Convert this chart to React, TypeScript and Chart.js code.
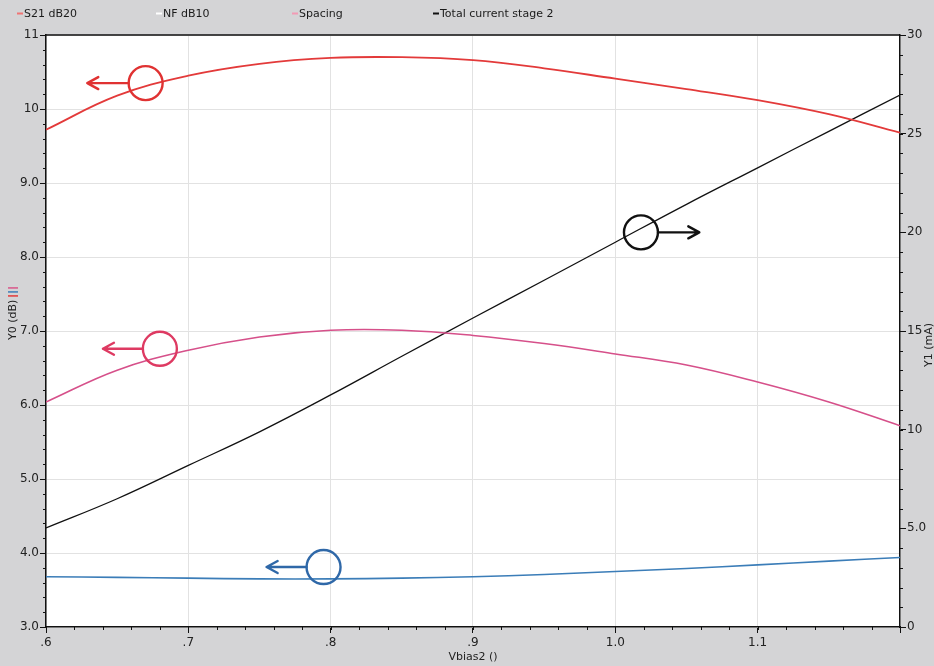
import React, { useEffect, useRef } from "react";
import { Chart, registerables } from "chart.js";

Chart.register(...registerables);

// Sweep of the second-stage bias voltage (V)
const vbias = [0.6, 0.65, 0.7, 0.75, 0.8, 0.85, 0.9, 0.95, 1.0, 1.05, 1.1, 1.15, 1.2];

// Left axis (dB)
const s21Db20 = [9.72, 10.18, 10.45, 10.61, 10.69, 10.7, 10.66, 10.55, 10.41, 10.27, 10.12, 9.93, 9.68];
const nfDb10 = [3.68, 3.67, 3.66, 3.65, 3.65, 3.66, 3.68, 3.71, 3.75, 3.79, 3.84, 3.89, 3.94];
const spacing = [6.04, 6.47, 6.74, 6.92, 7.01, 7.01, 6.94, 6.83, 6.69, 6.54, 6.31, 6.04, 5.72];

// Right axis (mA)
const totalCurrent = [5.02, 6.5, 8.19, 9.89, 11.76, 13.72, 15.66, 17.57, 19.5, 21.42, 23.27, 25.12, 26.96];

const legendNames = ["S21 dB20", "NF dB10", "Spacing", "Total current stage 2"];

// Axis ranges
const xRange = [0.6, 1.2];
const leftRange = [3, 11];
const rightRange = [0, 30];

// Callout circles with arrows pointing at the axis each curve belongs to
const callouts = [
  { x: 0.67, y: 10.35, axis: "y", tip: 0.629, color: "#e03232" },
  { x: 0.68, y: 6.76, axis: "y", tip: 0.64, color: "#de3a62" },
  { x: 0.795, y: 3.81, axis: "y", tip: 0.755, color: "#2f68a8" },
  { x: 1.018, y: 20.0, axis: "y1", tip: 1.059, color: "#111111" },
];

const FONT = "DejaVu Sans, Verdana, sans-serif";

const toXY = (ys: number[]) => ys.map((y, i) => ({ x: vbias[i], y }));

const fmtX = (v: number) => {
  if (Math.abs(v - 1.2) < 1e-6) return "";
  let s = v.toFixed(1);
  if (s.startsWith("0")) s = s.slice(1);
  return s;
};
const fmtLeft = (v: number) => (v >= 10 ? String(Math.round(v)) : v.toFixed(1));
const fmtRight = (v: number) => (v === 0 ? "0" : v >= 10 ? String(Math.round(v)) : v.toFixed(1));

const decorPlugin = {
  id: "decor",
  beforeDraw(chart: any) {
    const { ctx, chartArea: a } = chart;
    ctx.save();
    ctx.fillStyle = "#d4d4d6";
    ctx.fillRect(0, 0, chart.width, chart.height);
    ctx.fillStyle = "#ffffff";
    ctx.fillRect(a.left, a.top, a.right - a.left, a.bottom - a.top);
    ctx.restore();
  },
  afterDraw(chart: any) {
    const { ctx, chartArea: a } = chart;
    const xs = chart.scales.x;
    const yl = chart.scales.y;
    const yr = chart.scales.y1;
    ctx.save();

    // frame top edge
    ctx.strokeStyle = "#111";
    ctx.lineWidth = 1.5;
    ctx.beginPath();
    ctx.moveTo(a.left, a.top);
    ctx.lineTo(a.right, a.top);
    ctx.stroke();

    // minor ticks
    ctx.lineWidth = 1;
    ctx.beginPath();
    for (let v = leftRange[0]; v <= leftRange[1] + 1e-6; v += 0.2) {
      const p = Math.round(yl.getPixelForValue(v)) + 0.5;
      ctx.moveTo(a.left - 3, p);
      ctx.lineTo(a.left, p);
    }
    for (let v = rightRange[0]; v <= rightRange[1] + 1e-6; v += 1) {
      const p = Math.round(yr.getPixelForValue(v)) + 0.5;
      ctx.moveTo(a.right, p);
      ctx.lineTo(a.right + 3, p);
    }
    for (let v = xRange[0]; v <= xRange[1] + 1e-6; v += 0.02) {
      const p = Math.round(xs.getPixelForValue(v)) + 0.5;
      ctx.moveTo(p, a.bottom);
      ctx.lineTo(p, a.bottom + 3);
    }
    ctx.stroke();

    // callouts
    ctx.lineCap = "round";
    ctx.lineJoin = "round";
    for (const c of callouts) {
      const sc = c.axis === "y" ? yl : yr;
      const cx = xs.getPixelForValue(c.x);
      const cy = sc.getPixelForValue(c.y);
      const tx = xs.getPixelForValue(c.tip);
      const r = 17;
      const dir = tx < cx ? -1 : 1;
      ctx.strokeStyle = c.color;
      ctx.lineWidth = 2.4;
      ctx.beginPath();
      ctx.arc(cx, cy, r, 0, Math.PI * 2);
      ctx.stroke();
      ctx.beginPath();
      ctx.moveTo(cx + dir * r, cy);
      ctx.lineTo(tx, cy);
      ctx.moveTo(tx - dir * 11, cy - 6);
      ctx.lineTo(tx, cy);
      ctx.lineTo(tx - dir * 11, cy + 6);
      ctx.stroke();
    }

    // legend strip
    const legendX = [17, 156, 292, 433];
    const legendMarks = ["#f07474", "#ffffff", "#f29ab4", "#111111"];
    ctx.font = `11px ${FONT}`;
    ctx.textBaseline = "middle";
    ctx.textAlign = "left";
    legendNames.forEach((name, i) => {
      ctx.strokeStyle = legendMarks[i];
      ctx.lineWidth = 2;
      ctx.lineCap = "butt";
      ctx.beginPath();
      ctx.moveTo(legendX[i], 13.5);
      ctx.lineTo(legendX[i] + 6, 13.5);
      ctx.stroke();
      ctx.fillStyle = "#1a1a1a";
      ctx.fillText(name, legendX[i] + 7, 14);
    });

    // axis titles
    ctx.font = `11px ${FONT}`;
    ctx.fillStyle = "#222";
    ctx.textAlign = "center";
    ctx.textBaseline = "middle";
    ctx.fillText("Vbias2 ()", (a.left + a.right) / 2, 657);

    ctx.save();
    ctx.translate(13, 340);
    ctx.rotate(-Math.PI / 2);
    ctx.textAlign = "left";
    const t0 = "Y0 (dB)";
    ctx.fillText(t0, 0, 0);
    let off = ctx.measureText(t0).width + 3;
    ["#e23b3b", "#3d7fb8", "#d9578a"].forEach((col) => {
      ctx.fillStyle = col;
      ctx.fillRect(off, -5, 1.5, 10);
      off += 4;
    });
    ctx.restore();

    ctx.save();
    ctx.translate(929, 345);
    ctx.rotate(-Math.PI / 2);
    ctx.fillStyle = "#222";
    ctx.textAlign = "center";
    ctx.fillText("Y1 (mA)", 0, 0);
    ctx.restore();

    ctx.restore();
  },
};

export default function App() {
  const ref = useRef<HTMLCanvasElement | null>(null);

  useEffect(() => {
    if (!ref.current) return;
    const line = (label: string, data: number[], color: string, axis: string, w = 1.6) => ({
      label,
      data: toXY(data),
      borderColor: color,
      backgroundColor: color,
      borderWidth: w,
      pointRadius: 0,
      tension: 0.4,
      yAxisID: axis,
      fill: false,
    });
    const tickFont = { family: FONT, size: 12 };
    const chart = new Chart(ref.current, {
      type: "line",
      data: {
        datasets: [
          line(legendNames[0], s21Db20, "#e33a3a", "y", 1.8),
          line(legendNames[1], nfDb10, "#3b7db8", "y"),
          line(legendNames[2], spacing, "#d6508a", "y"),
          line(legendNames[3], totalCurrent, "#111111", "y1", 1.3),
        ],
      },
      options: {
        animation: false,
        responsive: false,
        devicePixelRatio: 1,
        layout: { padding: { top: 35, left: 0, right: 0, bottom: 0 } },
        plugins: { legend: { display: false }, tooltip: { enabled: false } },
        scales: {
          x: {
            type: "linear",
            min: xRange[0],
            max: xRange[1],
            afterFit: (s: any) => {
              s.height = 39;
            },
            ticks: {
              stepSize: 0.1,
              padding: 3,
              color: "#222",
              font: tickFont,
              maxRotation: 0,
              autoSkip: false,
              callback: (v: any) => fmtX(Number(v)),
            },
            grid: { color: "#e2e2e2", tickColor: "#111", tickLength: 6, lineWidth: 1 },
            border: { color: "#111", width: 1.5 },
          },
          y: {
            position: "left",
            min: leftRange[0],
            max: leftRange[1],
            afterFit: (s: any) => {
              s.width = 46;
            },
            ticks: {
              stepSize: 1,
              padding: 1,
              color: "#222",
              font: tickFont,
              callback: (v: any) => fmtLeft(Number(v)),
            },
            grid: { color: "#e2e2e2", tickColor: "#111", tickLength: 6, lineWidth: 1 },
            border: { color: "#111", width: 1.5 },
          },
          y1: {
            position: "right",
            min: rightRange[0],
            max: rightRange[1],
            afterFit: (s: any) => {
              s.width = 34;
            },
            ticks: {
              stepSize: 5,
              padding: 1,
              color: "#222",
              font: tickFont,
              callback: (v: any) => fmtRight(Number(v)),
            },
            grid: { drawOnChartArea: false, tickColor: "#111", tickLength: 6 },
            border: { color: "#111", width: 1.5 },
          },
        },
      },
      plugins: [decorPlugin],
    } as any);
    return () => chart.destroy();
  }, []);

  return (
    <div style={{ position: "fixed", left: 0, top: 0, width: 934, height: 666, background: "#d4d4d6" }}>
      <canvas ref={ref} width={934} height={666} style={{ display: "block", width: 934, height: 666 }} />
    </div>
  );
}
